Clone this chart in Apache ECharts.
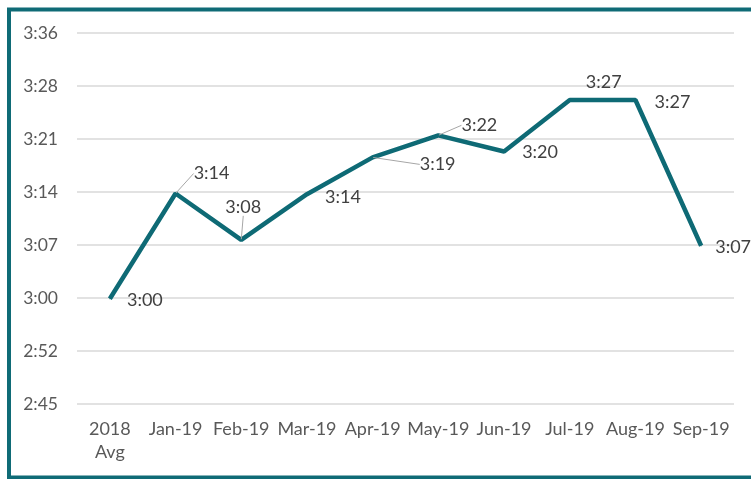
<!DOCTYPE html>
<html>
<head>
<meta charset="utf-8">
<script src="https://cdn.jsdelivr.net/npm/echarts@6/dist/echarts.min.js"></script>
<style>
  html, body { margin: 0; padding: 0; background: #fff; }
  #main { width: 751px; height: 479px; }
</style>
</head>
<body>
<div id="main"></div>
<script>
// categories
const categories = ['2018\nAvg', 'Jan-19', 'Feb-19', 'Mar-19', 'Apr-19', 'May-19', 'Jun-19', 'Jul-19', 'Aug-19', 'Sep-19'];
// values in seconds (m:ss)
const values = [180.0, 194.3, 188.0, 194.2, 199.2, 202.2, 200.0, 207.0, 207.0, 187.2];
// y axis ticks (seconds) and their printed labels
const tickValues = [165.7, 172.9, 180.1, 187.3, 194.5, 201.7, 208.9, 216.1];
const tickLabels = ['2:45', '2:52', '3:00', '3:07', '3:14', '3:21', '3:28', '3:36'];

const fmt = s => Math.floor(s / 60) + ':' + String(Math.floor(s % 60)).padStart(2, '0');

// label offsets from the point (label centre), and which ones have a leader line
const labelOffsets = [[35, 1], [36, -20], [2, -33], [36, 3], [65, 7], [41, -10], [36, 1], [34, -18], [37, 2], [32, 1]];
const leaders = [false, true, true, false, true, true, false, false, false, false];

const chartDom = document.getElementById('main');
const chart = echarts.init(chartDom);

const option = {
  animation: false,
  textStyle: { fontFamily: 'Lato, "Open Sans", sans-serif' },
  graphic: [
    {
      type: 'rect',
      shape: { x: 9, y: 9.5, width: 800, height: 468 },
      style: { fill: 'none', stroke: '#0f6b76', lineWidth: 4 },
      z: 100
    }
  ],
  grid: {
    left: 77,
    right: 17,
    top: 33,
    bottom: 75
  },
  xAxis: {
    type: 'category',
    data: categories,
    boundaryGap: true,
    axisLine: { show: false },
    axisTick: { show: false },
    axisLabel: {
      color: '#595959',
      fontSize: 18,
      lineHeight: 23,
      margin: 14,
      interval: 0
    }
  },
  yAxis: {
    type: 'value',
    min: 165.7,
    max: 216.1,
    axisLine: { show: false },
    axisTick: { show: false, customValues: tickValues },
    axisLabel: {
      customValues: tickValues,
      color: '#595959',
      fontSize: 17.5,
      margin: 19,
      formatter: v => {
        const i = Math.round((v - tickValues[0]) / 7.2);
        return tickLabels[i];
      }
    },
    splitLine: { show: true, lineStyle: { color: '#d9d9d9', width: 1.5 } }
  },
  series: [
    {
      type: 'line',
      data: values.map((v, i) => ({
        value: v,
        labelLine: { show: leaders[i] }
      })),
      symbol: 'circle',
      symbolSize: 1,
      itemStyle: { color: '#0e6a75' },
      lineStyle: { color: '#0e6a75', width: 4.5 },
      label: {
        show: true,
        position: 'inside',
        color: '#404040',
        fontSize: 18,
        formatter: p => fmt(p.value)
      },
      labelLine: {
        lineStyle: { color: '#a6a6a6', width: 1 }
      },
      labelLayout: p => ({
        dx: labelOffsets[p.dataIndex][0],
        dy: labelOffsets[p.dataIndex][1]
      })
    }
  ]
};

chart.setOption(option);
window.addEventListener('resize', () => {
  chart.resize();
});
</script>
</body>
</html>
